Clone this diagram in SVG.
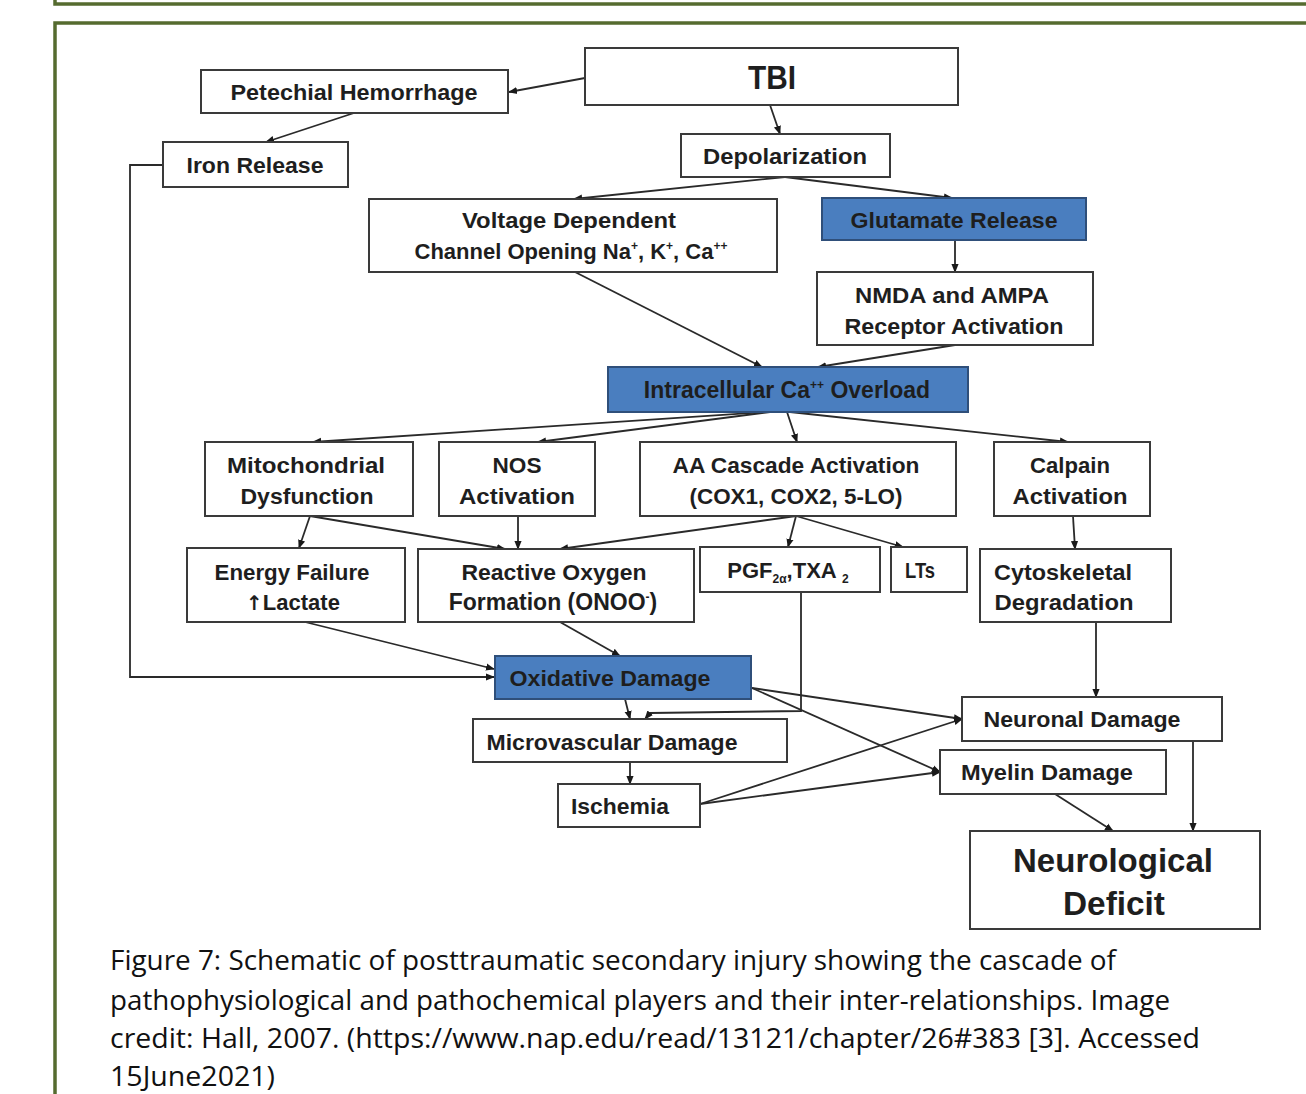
<svg xmlns="http://www.w3.org/2000/svg" width="1306" height="1094" viewBox="0 0 1306 1094">
<defs>
<marker id="ah" viewBox="0 0 10 10" refX="9" refY="5" markerWidth="9" markerHeight="9" markerUnits="userSpaceOnUse" orient="auto">
<path d="M0,1 L10,5 L0,9 z" fill="#1a1a1a"/>
</marker>
<style>
.box{fill:#fff;stroke:#3a3a3a;stroke-width:2}
.blue{fill:#4a7ebf;stroke:#2f4f7a;stroke-width:2}
.t{font-family:"Liberation Sans",Arial,sans-serif;font-weight:bold;font-size:22px;fill:#1e1e1e;text-anchor:middle}
.t2{font-size:23px}
.big{font-size:34px}
.sup{font-size:12px}
.c{fill:none;stroke:#2a2a2a;stroke-width:1.8;marker-end:url(#ah)}
.frame{fill:none;stroke:#556b2f;stroke-width:3.5}
.cap{font-family:"Open Sans","Liberation Sans",sans-serif;font-size:27px;fill:#111}
</style>
</defs>
<rect width="1306" height="1094" fill="#fff"/>
<g id="frames">
<path class="frame" d="M55,0 V4 H1306"/>
<path class="frame" d="M55,1094 V23 H1306"/>
</g>
<g id="connectors">
<path class="c" d="M585,78 L509,92"/>
<path class="c" d="M354,113 L266,142"/>
<path class="c" d="M163,165 H130 V677 H494"/>
<path class="c" d="M770,105 L780,134"/>
<path class="c" d="M785,177 L574,199"/>
<path class="c" d="M785,177 L952,198"/>
<path class="c" d="M955,240 V272"/>
<path class="c" d="M575,272 L762,367"/>
<path class="c" d="M955,345 L818,367"/>
<path class="c" d="M765,412 L313,442"/>
<path class="c" d="M770,412 L538,442"/>
<path class="c" d="M787,412 L797,442"/>
<path class="c" d="M790,412 L1068,442"/>
<path class="c" d="M310,516 L299,548"/>
<path class="c" d="M310,516 L505,549"/>
<path class="c" d="M518,516 V549"/>
<path class="c" d="M796,516 L560,549"/>
<path class="c" d="M796,516 L788,547"/>
<path class="c" d="M796,516 L903,547"/>
<path class="c" d="M1073,516 L1075,549"/>
<path class="c" d="M305,622 L494,669"/>
<path class="c" d="M560,622 L620,656"/>
<path class="c" d="M801,592 V711 L650,713 L645,719"/>
<path class="c" d="M625,699 L630,719"/>
<path class="c" d="M630,762 V784"/>
<path class="c" d="M752,688 L962,719"/>
<path class="c" d="M752,688 L940,772"/>
<path class="c" d="M700,804 L962,719"/>
<path class="c" d="M700,804 L940,772"/>
<path class="c" d="M1096,622 V697"/>
<path class="c" d="M1193,741 V831"/>
<path class="c" d="M1055,794 L1113,831"/>
</g>
<g id="tbi"><rect class="box" x="585" y="48" width="373" height="57"/><text class="t big" x="772" y="89" textLength="48" lengthAdjust="spacingAndGlyphs">TBI</text></g>
<g id="petechial"><rect class="box" x="201" y="70" width="307" height="43"/><text class="t" x="354" y="100" textLength="247" lengthAdjust="spacingAndGlyphs">Petechial Hemorrhage</text></g>
<g id="iron"><rect class="box" x="163" y="142" width="185" height="45"/><text class="t" x="255" y="173" textLength="137" lengthAdjust="spacingAndGlyphs">Iron Release</text></g>
<g id="depol"><rect class="box" x="681" y="134" width="209" height="43"/><text class="t" x="785" y="164" textLength="164" lengthAdjust="spacingAndGlyphs">Depolarization</text></g>
<g id="voltage"><rect class="box" x="369" y="199" width="408" height="73"/><text class="t" x="569" y="228" textLength="214" lengthAdjust="spacingAndGlyphs">Voltage Dependent</text><text class="t" x="571" y="259">Channel Opening Na<tspan class="sup" dy="-9">+</tspan><tspan dy="9">, K</tspan><tspan class="sup" dy="-9">+</tspan><tspan dy="9">, Ca</tspan><tspan class="sup" dy="-9">++</tspan></text></g>
<g id="glutamate"><rect class="blue" x="822" y="198" width="264" height="42"/><text class="t" x="954" y="228" textLength="207" lengthAdjust="spacingAndGlyphs">Glutamate Release</text></g>
<g id="nmda"><rect class="box" x="817" y="272" width="276" height="73"/><text class="t" x="952" y="303" textLength="194" lengthAdjust="spacingAndGlyphs">NMDA and AMPA</text><text class="t" x="954" y="334" textLength="219" lengthAdjust="spacingAndGlyphs">Receptor Activation</text></g>
<g id="calcium"><rect class="blue" x="608" y="367" width="360" height="45"/><text class="t t2" x="787" y="398">Intracellular Ca<tspan class="sup" dy="-9">++</tspan><tspan dy="9"> Overload</tspan></text></g>
<g id="mito"><rect class="box" x="205" y="442" width="208" height="74"/><text class="t" x="306" y="473" textLength="158" lengthAdjust="spacingAndGlyphs">Mitochondrial</text><text class="t" x="307" y="504" textLength="133" lengthAdjust="spacingAndGlyphs">Dysfunction</text></g>
<g id="nos"><rect class="box" x="439" y="442" width="156" height="74"/><text class="t" x="517" y="473" textLength="49" lengthAdjust="spacingAndGlyphs">NOS</text><text class="t" x="517" y="504" textLength="116" lengthAdjust="spacingAndGlyphs">Activation</text></g>
<g id="aa"><rect class="box" x="640" y="442" width="316" height="74"/><text class="t" x="796" y="473" textLength="247" lengthAdjust="spacingAndGlyphs">AA Cascade Activation</text><text class="t" x="796" y="504" textLength="213" lengthAdjust="spacingAndGlyphs">(COX1, COX2, 5-LO)</text></g>
<g id="calpain"><rect class="box" x="994" y="442" width="156" height="74"/><text class="t" x="1070" y="473" textLength="80" lengthAdjust="spacingAndGlyphs">Calpain</text><text class="t" x="1070" y="504" textLength="115" lengthAdjust="spacingAndGlyphs">Activation</text></g>
<g id="energy"><rect class="box" x="187" y="548" width="218" height="74"/><text class="t" x="292" y="580" textLength="155" lengthAdjust="spacingAndGlyphs">Energy Failure</text><text class="t" x="293" y="610"><tspan font-family="DejaVu Sans, sans-serif" font-size="20">↑</tspan>Lactate</text></g>
<g id="ros"><rect class="box" x="418" y="549" width="276" height="73"/><text class="t" x="554" y="580" textLength="185" lengthAdjust="spacingAndGlyphs">Reactive Oxygen</text><text class="t t2" x="553" y="610">Formation (ONOO<tspan class="sup" dy="-9">-</tspan><tspan dy="9">)</tspan></text></g>
<g id="pgf"><rect class="box" x="700" y="547" width="180" height="45"/><text class="t" x="788" y="578">PGF<tspan class="sup" dy="5">2α</tspan><tspan dy="-5">,TXA </tspan><tspan class="sup" dy="5">2</tspan></text></g>
<g id="lts"><rect class="box" x="891" y="547" width="76" height="45"/><text class="t" x="920" y="578" textLength="30" lengthAdjust="spacingAndGlyphs">LTs</text></g>
<g id="cyto"><rect class="box" x="980" y="549" width="191" height="73"/><text class="t" x="1063" y="580" textLength="138" lengthAdjust="spacingAndGlyphs">Cytoskeletal</text><text class="t" x="1064" y="610" textLength="139" lengthAdjust="spacingAndGlyphs">Degradation</text></g>
<g id="oxidative"><rect class="blue" x="495" y="656" width="256" height="43"/><text class="t" x="610" y="686" textLength="201" lengthAdjust="spacingAndGlyphs">Oxidative Damage</text></g>
<g id="microvascular"><rect class="box" x="473" y="719" width="314" height="43"/><text class="t" x="612" y="750" textLength="251" lengthAdjust="spacingAndGlyphs">Microvascular Damage</text></g>
<g id="ischemia"><rect class="box" x="558" y="784" width="142" height="43"/><text class="t" x="620" y="814" textLength="98" lengthAdjust="spacingAndGlyphs">Ischemia</text></g>
<g id="neuronal"><rect class="box" x="962" y="697" width="260" height="44"/><text class="t" x="1082" y="727" textLength="197" lengthAdjust="spacingAndGlyphs">Neuronal Damage</text></g>
<g id="myelin"><rect class="box" x="940" y="750" width="226" height="44"/><text class="t" x="1047" y="780" textLength="172" lengthAdjust="spacingAndGlyphs">Myelin Damage</text></g>
<g id="deficit"><rect class="box" x="970" y="831" width="290" height="98"/><text class="t big" x="1113" y="872" textLength="200" lengthAdjust="spacingAndGlyphs">Neurological</text><text class="t big" x="1114" y="915" textLength="102" lengthAdjust="spacingAndGlyphs">Deficit</text></g>
<g id="caption">
<text class="cap" x="110" y="970" textLength="1006" lengthAdjust="spacingAndGlyphs">Figure 7: Schematic of posttraumatic secondary injury showing the cascade of</text>
<text class="cap" x="110" y="1010" textLength="1060" lengthAdjust="spacingAndGlyphs">pathophysiological and pathochemical players and their inter-relationships. Image</text>
<text class="cap" x="110" y="1048" textLength="1090" lengthAdjust="spacingAndGlyphs">credit: Hall, 2007. (https://www.nap.edu/read/13121/chapter/26#383 [3]. Accessed</text>
<text class="cap" x="110" y="1086" textLength="165" lengthAdjust="spacingAndGlyphs">15June2021)</text>
</g>
</svg>
